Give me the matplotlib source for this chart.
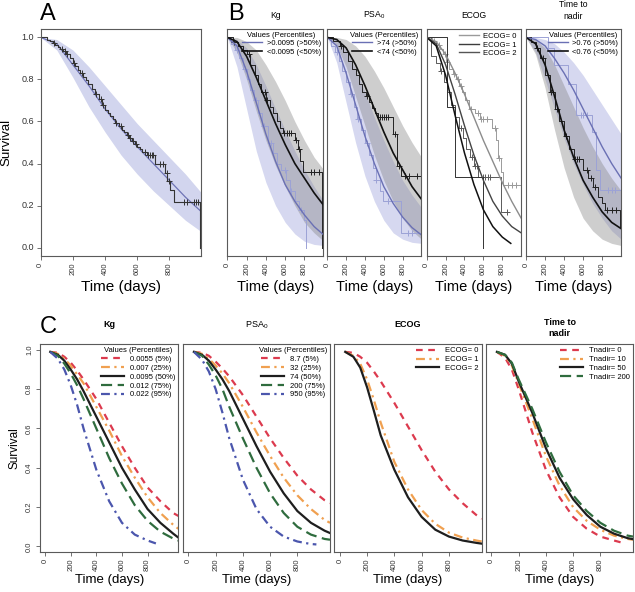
import numpy as np
import matplotlib.pyplot as plt

plt.rcParams['font.family'] = ['Liberation Sans', 'DejaVu Sans']
plt.rcParams['mathtext.fontset'] = 'custom'
plt.rcParams['mathtext.rm'] = 'Liberation Sans'
plt.rcParams['mathtext.it'] = 'Liberation Sans:italic'

#------------------------------------------------------------------------
# data
t_grid = [0, 100, 200, 300, 400, 500, 600, 700, 800, 900, 1000]

# panel A : whole population
a_model = [1.0, 0.97, 0.87, 0.77, 0.66, 0.565, 0.48, 0.40, 0.32, 0.24, 0.17]
a_up    = [1.0, 0.99, 0.94, 0.86, 0.77, 0.68, 0.59, 0.51, 0.43, 0.35, 0.26]
a_lo    = [1.0, 0.94, 0.81, 0.67, 0.55, 0.44, 0.35, 0.27, 0.20, 0.13, 0.075]
a_km_t = [0, 37, 58, 75, 89, 105, 120, 141, 160, 183, 200, 214, 230, 245, 262,
          280, 297, 318, 339, 360, 380, 401, 416, 432, 448, 464, 485, 505, 520,
          536, 552, 568, 584, 599, 615, 630, 661, 713, 775, 786, 807, 827, 988]
a_km_s = [1.0, 0.99, 0.983, 0.975, 0.965, 0.955, 0.945, 0.935, 0.922, 0.9, 0.878,
          0.862, 0.846, 0.83, 0.812, 0.795, 0.777, 0.755, 0.73, 0.705, 0.68, 0.655,
          0.64, 0.625, 0.61, 0.595, 0.577, 0.56, 0.548, 0.535, 0.52, 0.505, 0.493,
          0.48, 0.468, 0.455, 0.44, 0.40, 0.355, 0.315, 0.275, 0.215, 0.0]
a_cens = [80, 130, 150, 165, 210, 255, 345, 375, 390, 470, 500, 540, 555, 575,
          590, 650, 665, 680, 690, 700, 740, 760, 785, 800, 890, 910, 955, 965, 980]

# panel B : Kg
kg_hi_line = [1.0, 0.96, 0.84, 0.69, 0.54, 0.41, 0.30, 0.22, 0.155, 0.10, 0.06]
kg_lo_line = [1.0, 0.98, 0.91, 0.81, 0.70, 0.59, 0.49, 0.40, 0.33, 0.26, 0.20]
kg_hi_up = [1.0, 0.99, 0.95, 0.87, 0.77, 0.66, 0.56, 0.46, 0.37, 0.29, 0.22]
kg_hi_lo = [1.0, 0.86, 0.66, 0.46, 0.31, 0.20, 0.12, 0.065, 0.03, 0.015, 0.01]
kg_lo_up = [1.0, 1.0, 0.98, 0.94, 0.87, 0.79, 0.70, 0.60, 0.51, 0.43, 0.37]
kg_lo_lo = [1.0, 0.93, 0.80, 0.65, 0.51, 0.39, 0.29, 0.20, 0.12, 0.07, 0.03]
kg_lo_km_t = [0, 60, 110, 160, 200, 240, 285, 320, 350, 405, 440, 474, 510, 545,
              577, 698, 732, 756, 784, 985]
kg_lo_km_s = [1.0, 0.98, 0.96, 0.94, 0.92, 0.87, 0.82, 0.78, 0.74, 0.70, 0.67,
              0.64, 0.60, 0.57, 0.545, 0.51, 0.47, 0.41, 0.36, 0.0]
kg_lo_cens = [70, 230, 395, 410, 590, 620, 640, 660, 710, 740, 870, 900, 950]
kg_hi_km_t = [0, 40, 80, 120, 160, 200, 240, 280, 320, 360, 420, 470, 520, 560,
              610, 650, 700, 740, 790, 820]
kg_hi_km_s = [1.0, 0.97, 0.94, 0.90, 0.85, 0.80, 0.75, 0.70, 0.64, 0.58, 0.50,
              0.45, 0.40, 0.37, 0.32, 0.27, 0.22, 0.18, 0.13, 0.0]
kg_hi_cens = [100, 180, 300, 380, 450, 600, 660, 760]

# panel B : PSA0
psa_hi_line = [1.0, 0.96, 0.83, 0.68, 0.53, 0.40, 0.29, 0.21, 0.145, 0.095, 0.06]
psa_lo_line = [1.0, 0.99, 0.95, 0.87, 0.77, 0.66, 0.55, 0.45, 0.37, 0.29, 0.23]
psa_hi_up = [1.0, 0.99, 0.94, 0.85, 0.74, 0.62, 0.51, 0.41, 0.32, 0.25, 0.19]
psa_hi_lo = [1.0, 0.88, 0.69, 0.50, 0.34, 0.22, 0.13, 0.07, 0.04, 0.025, 0.02]
psa_lo_up = [1.0, 1.0, 0.99, 0.96, 0.91, 0.84, 0.76, 0.67, 0.58, 0.50, 0.43]
psa_lo_lo = [1.0, 0.96, 0.86, 0.72, 0.58, 0.44, 0.32, 0.22, 0.14, 0.08, 0.04]
psa_lo_km_t = [0, 60, 130, 170, 216, 260, 302, 340, 371, 410, 440, 475, 508, 543,
               698, 742, 780, 990]
psa_lo_km_s = [1.0, 0.985, 0.96, 0.93, 0.886, 0.85, 0.82, 0.78, 0.74, 0.72, 0.695,
               0.665, 0.64, 0.62, 0.54, 0.39, 0.34, 0.0]
psa_lo_cens = [150, 420, 560, 580, 600, 620, 640, 720, 760, 830, 870, 950]
psa_hi_km_t = [0, 40, 80, 120, 160, 200, 240, 280, 320, 360, 400, 440, 480, 520,
               560, 595, 783, 990]
psa_hi_km_s = [1.0, 0.96, 0.93, 0.89, 0.84, 0.79, 0.73, 0.67, 0.61, 0.56, 0.50,
               0.44, 0.38, 0.32, 0.27, 0.22, 0.07, 0.0]
psa_hi_cens = [100, 250, 330, 420, 520, 640, 860, 900]

# panel B : ECOG
ecog0_line = [1.0, 0.98, 0.92, 0.83, 0.73, 0.62, 0.51, 0.41, 0.31, 0.22, 0.14]
ecog1_line = [1.0, 0.97, 0.87, 0.73, 0.58, 0.44, 0.32, 0.22, 0.15, 0.10, 0.07]
ecog2_t    = [0, 100, 200, 300, 400, 500, 600, 700, 800, 890]
ecog2_line = [1.0, 0.96, 0.82, 0.63, 0.45, 0.30, 0.18, 0.10, 0.05, 0.02]
ecog0_km_t = [0, 60, 101, 140, 170, 205, 239, 275, 308, 340, 376, 410, 445, 514,
              560, 686, 735, 760, 785, 805, 995]
ecog0_km_s = [1.0, 0.985, 0.965, 0.945, 0.92, 0.885, 0.85, 0.825, 0.80, 0.77, 0.74,
              0.70, 0.66, 0.64, 0.61, 0.57, 0.51, 0.425, 0.36, 0.30, 0.0]
ecog0_cens = [80, 130, 190, 220, 290, 330, 360, 470, 540, 580, 600, 640, 720, 770,
              860, 900, 940]
ecog1_km_t = [0, 50, 100, 140, 180, 220, 260, 300, 340, 380, 420, 460, 500, 540,
              789, 870]
ecog1_km_s = [1.0, 0.91, 0.88, 0.84, 0.79, 0.74, 0.68, 0.62, 0.57, 0.52, 0.47,
              0.43, 0.39, 0.338, 0.17, 0.17]
ecog1_cens = [150, 360, 480, 510, 530, 600, 620, 650, 670, 850]
ecog2_km_t = [0, 210, 300, 593]
ecog2_km_s = [1.0, 0.67, 0.338, 0.0]

# panel B : time to nadir
tn_hi_line = [1.0, 0.99, 0.96, 0.90, 0.83, 0.75, 0.66, 0.57, 0.48, 0.40, 0.33]
tn_lo_line = [1.0, 0.97, 0.87, 0.72, 0.56, 0.43, 0.32, 0.24, 0.17, 0.12, 0.09]
tn_hi_up = [1.0, 1.0, 0.99, 0.97, 0.93, 0.88, 0.82, 0.75, 0.68, 0.61, 0.54]
tn_hi_lo = [1.0, 0.93, 0.80, 0.66, 0.52, 0.40, 0.30, 0.21, 0.14, 0.08, 0.04]
tn_lo_up = [1.0, 0.99, 0.95, 0.87, 0.77, 0.67, 0.57, 0.48, 0.40, 0.33, 0.27]
tn_lo_lo = [1.0, 0.92, 0.76, 0.56, 0.38, 0.24, 0.14, 0.08, 0.04, 0.02, 0.01]
tn_lo_km_t = [0, 50, 100, 150, 200, 250, 300, 350, 400, 450, 500, 600, 650, 700,
              760, 800, 830, 990]
tn_lo_km_s = [1.0, 0.98, 0.95, 0.90, 0.82, 0.74, 0.66, 0.60, 0.53, 0.47, 0.42,
              0.37, 0.33, 0.29, 0.24, 0.21, 0.18, 0.10]
tn_lo_cens = [120, 180, 260, 330, 420, 520, 540, 560, 640, 680, 720, 850, 900, 950]
tn_hi_km_t = [0, 230, 290, 440, 530, 690, 740, 775, 990]
tn_hi_km_s = [1.0, 0.95, 0.87, 0.78, 0.63, 0.55, 0.37, 0.275, 0.275]
tn_hi_cens = [580, 600, 640, 860, 900, 940]

# panel C : predicted curves
tc = [40, 100, 150, 200, 250, 300, 400, 500, 600, 700, 800, 900, 1000, 1040]
kg_labels = ['0.0055 (5%)', '0.007 (25%)', '0.0095 (50%)', '0.012 (75%)', '0.022 (95%)']
kg_c = [[.99, .985, .965, .935, .895, .85, .75, .63, .51, .40, .30, .23, .17, .155],
        [.99, .98, .955, .92, .875, .83, .71, .59, .46, .35, .25, .17, .11, .09],
        [.99, .975, .945, .90, .85, .79, .66, .53, .40, .29, .19, .12, .065, .045],
        [.99, .97, .93, .88, .82, .75, .60, .45, .32, .21, .13, .075, .04, .03]]
kg_c5_t = [40, 100, 150, 200, 250, 300, 400, 500, 600, 700, 800, 865]
kg_c5 = [.99, .955, .90, .82, .72, .60, .39, .23, .12, .06, .03, .015]

psa_labels = ['8.7 (5%)', '32 (25%)', '74 (50%)', '200 (75%)', '950 (95%)']
psa_c = [[.99, .985, .97, .94, .905, .865, .77, .66, .55, .45, .36, .29, .235, .22],
         [.99, .98, .955, .92, .88, .83, .71, .58, .46, .35, .26, .19, .135, .12],
         [.99, .975, .945, .90, .85, .79, .65, .51, .38, .27, .18, .12, .08, .068],
         [.99, .97, .925, .87, .80, .71, .55, .40, .27, .17, .10, .06, .038, .034]]
psa_c5_t = [40, 100, 150, 200, 250, 300, 400, 500, 600, 700, 800, 900, 940]
psa_c5 = [.99, .95, .89, .80, .68, .55, .34, .19, .10, .05, .025, .012, .01]

ecog_labels = ['ECOG= 0', 'ECOG= 1', 'ECOG= 2']
ecog_c = [[.99, .985, .965, .935, .89, .84, .73, .61, .49, .38, .29, .22, .16, .14],
          [.99, .97, .93, .85, .745, .63, .43, .29, .185, .115, .07, .045, .03, .025],
          [.99, .965, .91, .81, .69, .565, .39, .25, .15, .085, .05, .03, .018, .014]]

tn_labels = ['Tnadir= 0', 'Tnadir= 10', 'Tnadir= 50', 'Tnadir= 200']
tn_c1_t = [40, 100, 150, 200, 250, 300, 400, 500, 600, 700, 800, 900, 970]
tn_c1 = [.99, .96, .90, .80, .69, .58, .39, .25, .15, .09, .05, .03, .017]
tn_c = [[.99, .97, .92, .83, .74, .65, .46, .31, .20, .13, .085, .055, .038, .034],
        [.99, .975, .93, .84, .76, .68, .50, .35, .24, .16, .10, .065, .042, .037],
        [.99, .975, .935, .85, .775, .70, .53, .38, .26, .18, .12, .08, .055, .05]]

#------------------------------------------------------------------------
W, H = 635., 592.
def box(l, t, r, b):
    return [l/W, 1-b/H, (r-l)/W, (b-t)/H]

RED, ORA, BLK, GRN, BLU = '#dc3a4e', '#f0a050', '#1e1e1e', '#2f6c3e', '#4b56ad'
LS = [(0, (3, 2.5)), (0, (4, 2, 1, 2)), '-', (0, (5, 2.5)), (0, (4, 2, 1, 2))]
COLS = [RED, ORA, BLK, GRN, BLU]
SPINE = '#5a5a5a'

def style(ax, xlim, ylim, yticks=False, rot_y=False, tsize=5.5, ysize=6.5):
    ax.set_xlim(*xlim)
    ax.set_ylim(*ylim)
    for s in ax.spines.values():
        s.set_color(SPINE)
        s.set_linewidth(0.8)
    ax.set_xticks([0, 200, 400, 600, 800])
    ax.set_xticklabels(['0', '200', '400', '600', '800'], rotation=90,
                       fontsize=tsize, color='#333333')
    ax.tick_params(direction='out', length=3, width=0.6, color=SPINE, pad=2)
    if yticks:
        ax.set_yticks([0, 0.2, 0.4, 0.6, 0.8, 1.0])
        ax.set_yticklabels(['0.0', '0.2', '0.4', '0.6', '0.8', '1.0'],
                           rotation=90 if rot_y else 0, fontsize=ysize,
                           color='#333333', va='center')
    else:
        ax.set_yticks([])

def km(ax, t, s, cens, col, lw=0.7):
    t = np.asarray(t); s = np.asarray(s)
    ax.step(t, s, where='post', color=col, lw=lw)
    if cens:
        c = np.asarray(cens)
        cs = s[np.searchsorted(t, c, side='right') - 1]
        ax.plot(c, cs, '+', color=col, ms=4.5, mew=0.7)

fig = plt.figure(figsize=(6.35, 5.92), dpi=100)

YL_AB = (-0.04, 1.04)
XL_AB = (0, 995)

# ---------------- A
ax = fig.add_axes(box(40.7, 29, 200.7, 256))
ax.fill_between(t_grid, a_lo, a_up, color='#d2d5ee', lw=0)
ax.plot(t_grid, a_model, color='#6f74b6', lw=0.9)
km(ax, a_km_t, a_km_s, a_cens, '#333333', lw=0.8)
style(ax, XL_AB, YL_AB, yticks=True)
ax.set_ylabel('Survival', fontsize=9.5, labelpad=6)
ax.set_xlabel('Time (days)', fontsize=11, labelpad=3)

# ---------------- B
BBLU_BAND = (0.50, 0.53, 0.82, 0.32)
GRAY_BAND = (0.50, 0.50, 0.50, 0.38)
BLINE = '#6a70b4'
BKM = '#9ca2d6'

def b_panel(pos, hi_line, lo_line, hi_up, hi_lo, lo_up, lo_lo,
            hi_km, lo_km, labels):
    ax = fig.add_axes(box(*pos))
    ax.fill_between(t_grid, hi_lo, hi_up, color=BBLU_BAND, lw=0)
    ax.fill_between(t_grid, lo_lo, lo_up, color=GRAY_BAND, lw=0)
    km(ax, *hi_km, BKM)
    km(ax, *lo_km, '#222222')
    h1, = ax.plot(t_grid, hi_line, color=BLINE, lw=1.0)
    h2, = ax.plot(t_grid, lo_line, color='#111111', lw=1.2)
    style(ax, XL_AB, YL_AB)
    ax.set_xlabel('Time (days)', fontsize=10.5, labelpad=3)
    ax.legend([h1, h2], labels, loc='upper right', frameon=False,
              fontsize=5.5, title='Values (Percentiles)', title_fontsize=5.5,
              handlelength=2.6, labelspacing=0.15, borderaxespad=0.15,
              handletextpad=0.6, borderpad=0.2)
    return ax

ax = b_panel((227.3, 29, 323.3, 256), kg_hi_line, kg_lo_line, kg_hi_up, kg_hi_lo,
             kg_lo_up, kg_lo_lo, (kg_hi_km_t, kg_hi_km_s, kg_hi_cens),
             (kg_lo_km_t, kg_lo_km_s, kg_lo_cens), ['>0.0095 (>50%)', '<0.0095 (<50%)'])
ax.set_title('Kg', fontsize=6.2, pad=8)
ax = b_panel((327.3, 29, 421, 256), psa_hi_line, psa_lo_line, psa_hi_up, psa_hi_lo,
             psa_lo_up, psa_lo_lo, (psa_hi_km_t, psa_hi_km_s, psa_hi_cens),
             (psa_lo_km_t, psa_lo_km_s, psa_lo_cens), ['>74 (>50%)', '<74 (<50%)'])
ax.set_title('PSA$_0$', fontsize=6.2, pad=8)

ax = fig.add_axes(box(426.7, 29, 520.7, 256))
E0, E1, E2 = '#9a9a9a', '#3c3c3c', '#555555'
km(ax, ecog0_km_t, ecog0_km_s, ecog0_cens, E0)
km(ax, ecog1_km_t, ecog1_km_s, ecog1_cens, '#5a5a5a')
km(ax, ecog2_km_t, ecog2_km_s, None, '#333333')
ax.plot(t_grid, ecog0_line, color='#8c8c8c', lw=1.0)
ax.plot(t_grid, ecog1_line, color='#444444', lw=1.0)
ax.plot(ecog2_t, ecog2_line, color='#111111', lw=1.1)
hs = [plt.Line2D([], [], color=c, lw=1.0) for c in (E0, E1, E2)]
ax.legend(hs, ecog_labels, loc='upper right', frameon=False, fontsize=5.5,
          handlelength=2.6, labelspacing=0.15, borderaxespad=0.3,
          handletextpad=0.6, borderpad=0.2)
style(ax, XL_AB, YL_AB)
ax.set_xlabel('Time (days)', fontsize=10.5, labelpad=3)
ax.set_title('ECOG', fontsize=6.2, pad=8)

ax = b_panel((526, 29, 620.7, 256), tn_hi_line, tn_lo_line, tn_hi_up, tn_hi_lo,
             tn_lo_up, tn_lo_lo, (tn_hi_km_t, tn_hi_km_s, tn_hi_cens),
             (tn_lo_km_t, tn_lo_km_s, tn_lo_cens), ['>0.76 (>50%)', '<0.76 (<50%)'])
ax.set_title('Time to\nnadir', fontsize=6.2, pad=7, linespacing=1.4)

# ---------------- C
YL_C = (-0.027, 1.03)
XL_C = (-40, 1040)

def c_panel(pos, series, labels, title, bold, yt=False, legtitle=None):
    ax = fig.add_axes(box(*pos))
    hs = []
    for (t, y), col, ls in series:
        h, = ax.plot(t, y, color=col, ls=ls, lw=1.6)
        hs.append(h)
    style(ax, XL_C, YL_C, yticks=yt, rot_y=True, tsize=5.5, ysize=5.5)
    ax.set_xlabel('Time (days)', fontsize=9.5, labelpad=2)
    ax.legend(hs, labels, loc='upper right', frameon=False, fontsize=5.5,
              title=legtitle, title_fontsize=5.5, handlelength=3.0,
              labelspacing=0.2, borderaxespad=0.2, handletextpad=0.8, borderpad=0.2)
    ax.set_title(title, fontsize=6.5, fontweight='bold' if bold else 'normal',
                 pad=12 if '\n' not in title else 6, linespacing=1.3)
    return ax

ser = [((tc, kg_c[i]), COLS[i], LS[i]) for i in range(4)] + [((kg_c5_t, kg_c5), BLU, LS[4])]
ax = c_panel((40, 344, 178.3, 551.7), ser, kg_labels, 'Kg', True, yt=True,
             legtitle='Values (Percentiles)')
ax.set_ylabel('Survival', fontsize=8.5, labelpad=4)

ser = [((tc, psa_c[i]), COLS[i], LS[i]) for i in range(4)] + [((psa_c5_t, psa_c5), BLU, LS[4])]
c_panel((183, 344, 330, 551.7), ser, psa_labels, 'PSA$_0$', False,
        legtitle='Values (Percentiles)')

ser = [((tc, ecog_c[i]), COLS[i], LS[i]) for i in range(3)]
c_panel((334.3, 344, 481.7, 551.7), ser, ecog_labels, 'ECOG', True)

ser = [((tn_c1_t, tn_c1), RED, LS[0])] + [((tc, tn_c[i]), [ORA, BLK, GRN][i], LS[i + 1]) for i in range(3)]
c_panel((486, 344, 633, 551.7), ser, tn_labels, 'Time to\nnadir', True)

# panel letters
fig.text(40/W, 1-3/H, 'A', fontsize=17, va='top', ha='left')
fig.text(228/W, 1-3/H, 'B', fontsize=17, va='top', ha='left')
fig.text(40/W, 1-316/H, 'C', fontsize=17, va='top', ha='left')

fig.savefig('out.png', dpi=100)
